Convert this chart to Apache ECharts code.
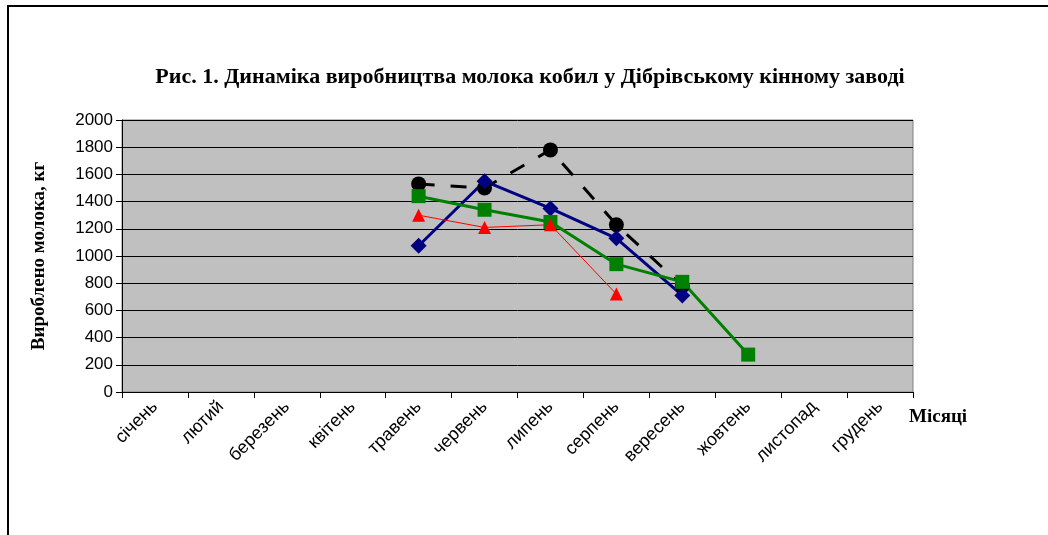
<!DOCTYPE html>
<html>
<head>
<meta charset="utf-8">
<script src="https://cdn.jsdelivr.net/npm/echarts@6/dist/echarts.min.js"></script>
<style>html,body{margin:0;padding:0;background:#fff}#c{width:1048px;height:535px}</style>
</head>
<body>
<div id="c"></div>
<script>
const months = ['січень','лютий','березень','квітень','травень','червень','липень','серпень','вересень','жовтень','листопад','грудень'];
const yTicks = [0,200,400,600,800,1000,1200,1400,1600,1800,2000];
const seriesBlack = [null,null,null,null,1530,1500,1780,1230,780,null,null,null];
const seriesBlue  = [null,null,null,null,1075,1550,1350,1130,710,null,null,null];
const seriesGreen = [null,null,null,null,1440,1340,1250,940,810,275,null,null];
const seriesRed   = [null,null,null,null,1300,1210,1230,720,null,null,null,null];

const chart = echarts.init(document.getElementById('c'), null, {renderer:'canvas'});
const serif = '"Liberation Serif","Times New Roman",serif';
const sans = '"Liberation Sans",Arial,sans-serif';
chart.setOption({
  animation:false,
  backgroundColor:'#ffffff',
  title:{
    text:'Рис. 1. Динаміка виробництва молока кобил у Дібрівському кінному заводі',
    left:525, top:61, textAlign:'center',
    textStyle:{fontFamily:serif, fontWeight:'bold', fontSize:22, color:'#000'}
  },
  graphic:[{
    type:'rect', shape:{x:8,y:6,width:1100,height:600},
    style:{fill:'none', stroke:'#000', lineWidth:2}, silent:true, z:-1
  }],
  grid:{left:122, right:135, top:120, bottom:143, show:true, backgroundColor:'#c0c0c0', borderColor:'#808080', borderWidth:1},
  xAxis:{
    type:'category', data:months, boundaryGap:true,
    name:'Місяці', nameLocation:'end', nameGap:-4,
    nameTextStyle:{fontFamily:serif, fontWeight:'bold', fontSize:19, color:'#000', align:'left', verticalAlign:'top', padding:[16,0,0,0]},
    axisLine:{lineStyle:{color:'#000', width:1}},
    axisTick:{show:true, length:6, inside:false, lineStyle:{color:'#000'}},
    axisLabel:{rotate:45, fontFamily:sans, fontSize:18, color:'#000', margin:12, interval:0},
    splitLine:{show:false}
  },
  yAxis:{
    type:'value', min:0, max:2000, interval:200,
    name:'Вироблено молока, кг', nameLocation:'middle', nameGap:73,
    nameTextStyle:{fontFamily:serif, fontWeight:'bold', fontSize:19, color:'#000'},
    axisLine:{show:true, lineStyle:{color:'#000'}},
    axisTick:{show:true, length:6, lineStyle:{color:'#000'}},
    axisLabel:{fontFamily:sans, fontSize:17, color:'#000', margin:9,
      formatter:function(v){return yTicks.indexOf(v)>=0 ? String(v) : '';}},
    splitLine:{show:true, lineStyle:{color:'#000', width:1}}
  },
  series:[
    {name:'black', type:'line', data:seriesBlack, connectNulls:false,
     symbol:'circle', symbolSize:15,
     itemStyle:{color:'#000'}, lineStyle:{color:'#000', width:3, type:[16,16]}},
    {name:'blue', type:'line', data:seriesBlue,
     symbol:'diamond', symbolSize:16,
     itemStyle:{color:'#000080'}, lineStyle:{color:'#000080', width:3}},
    {name:'green', type:'line', data:seriesGreen,
     symbol:'rect', symbolSize:14,
     itemStyle:{color:'#008000'}, lineStyle:{color:'#008000', width:3}},
    {name:'red', type:'line', data:seriesRed,
     symbol:'triangle', symbolSize:13,
     itemStyle:{color:'#ff0000'}, lineStyle:{color:'#ff0000', width:1}}
  ]
});
</script>
</body>
</html>
